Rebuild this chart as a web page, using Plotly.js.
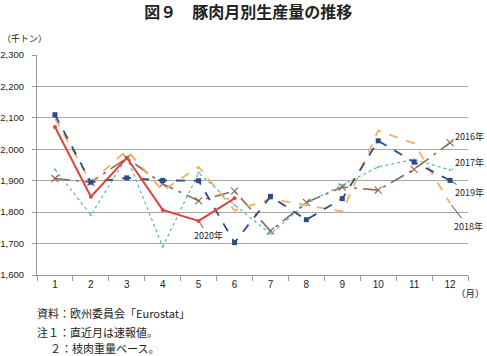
<!DOCTYPE html>
<html>
<head>
<meta charset="utf-8">
<script src="https://cdn.plot.ly/plotly-3.0.1.min.js"></script>
<style>html,body{margin:0;padding:0;background:#fff;}#chart{width:487px;height:356px;}</style>
</head>
<body>
<div id="chart"></div>
<script>
var months = ['1','2','3','4','5','6','7','8','9','10','11','12'];
var y2016 = [1907, 1895, 1972, 1890, 1836, 1867, 1740, 1831, 1880, 1870, 1936, 2021];
var y2017 = [1936, 1791, 1975, 1690, 1925, 1823, 1731, 1828, 1886, 1944, 1968, 1934];
var y2018 = [2098, 1895, 1997, 1868, 1944, 1805, 1842, 1822, 1802, 2059, 2019, 1828];
var y2019 = [2110, 1895, 1909, 1901, 1900, 1703, 1850, 1776, 1843, 2027, 1959, 1901];
var y2020 = [2071, 1849, 1973, 1807, 1772, 1844];
var yTicks = [1600, 1700, 1800, 1900, 2000, 2100, 2200, 2300];
var yTickText = ['1,600','1,700','1,800','1,900','2,000','2,100','2,200','2,300'];

var JP = '"Noto Sans CJK JP", "Noto Sans", sans-serif';
var NUM = '"Liberation Sans", Arial, sans-serif';

var traces = [
  {x: months, y: y2016, name: '2016年', mode: 'lines+markers',
   line: {color: '#8a6b55', width: 1.6, dash: 'longdashdot'},
   marker: {symbol: 'x-thin-open', size: 7, line: {color: '#8a6b55', width: 1.2}}},
  {x: months, y: y2017, name: '2017年', mode: 'lines+markers',
   line: {color: '#5ab3b8', width: 1.2, dash: 'dot'},
   marker: {symbol: 'triangle-up', size: 3, color: '#5ab3b8'}},
  {x: months, y: y2018, name: '2018年', mode: 'lines',
   line: {color: '#f0b064', width: 1.8, dash: 'dash'}},
  {x: months, y: y2019, name: '2019年', mode: 'lines+markers',
   line: {color: '#2c4a85', width: 1.8, dash: 'dash'},
   marker: {symbol: 'square', size: 5, color: '#2c4a85'}},
  {x: months.slice(0, y2020.length), y: y2020, name: '2020年', mode: 'lines+markers',
   line: {color: '#e0433a', width: 2}, marker: {symbol: 'circle', size: 4, color: '#e0433a'}}
];

// category axis: annotation x is the category index
function lab(text, idx, y, ax, ay) {
  return {x: idx, y: y, xref: 'x', yref: 'y', text: text, showarrow: true, arrowhead: 0,
          arrowwidth: 0.8, arrowcolor: '#222', ax: ax, ay: ay, standoff: 2,
          font: {family: JP, size: 9, color: '#222'}};
}

var layout = {
  width: 487, height: 356,
  margin: {l: 37, r: 19, t: 55, b: 81},
  paper_bgcolor: '#fff', plot_bgcolor: '#fff',
  showlegend: false,
  title: {text: '<b>図９　豚肉月別生産量の推移</b>', x: 0.51, xanchor: 'center', y: 0.965, yanchor: 'middle',
          font: {family: JP, size: 16, color: '#222'}},
  xaxis: {type: 'category', range: [-0.5, 11.5], showgrid: false, showline: true, linecolor: '#999', linewidth: 1,
          ticks: 'outside', tickson: 'boundaries', ticklen: 5, tickcolor: '#999',
          tickfont: {family: NUM, size: 10, color: '#222'}, fixedrange: true},
  yaxis: {range: [1600, 2300], tickvals: yTicks, ticktext: yTickText, showgrid: true, gridcolor: '#a8a8a8', gridwidth: 1,
          showline: true, linecolor: '#999', linewidth: 1, ticks: 'outside', ticklen: 4, tickcolor: '#999',
          ticklabelstandoff: 6, zeroline: false,
          tickfont: {family: NUM, size: 9.5, color: '#222'}, fixedrange: true},
  annotations: [
    lab('2016年', 11, y2016[11], 19, -6),
    lab('2017年', 11, y2017[11], 19, -8),
    lab('2019年', 11, y2019[11], 19, 12),
    lab('2018年', 11, y2018[11], 18, 23),
    lab('2020年', 4, y2020[4], 10, 15),
    {xref: 'paper', yref: 'paper', x: -0.085, y: 1.0, xanchor: 'left', yanchor: 'bottom', yshift: 8,
     text: '（千トン）', showarrow: false, font: {family: JP, size: 9, color: '#222'}},
    {xref: 'paper', yref: 'paper', x: 1.0, y: 0, xanchor: 'left', yanchor: 'top', yshift: -9, xshift: -14,
     text: '（月）', showarrow: false, font: {family: JP, size: 9.5, color: '#222'}},
    {xref: 'paper', yref: 'paper', x: 0, y: 0, xanchor: 'left', yanchor: 'middle', yshift: -38, xshift: -2,
     text: '資料：欧州委員会「Eurostat」', showarrow: false, font: {family: JP, size: 11, color: '#222'}},
    {xref: 'paper', yref: 'paper', x: 0, y: 0, xanchor: 'left', yanchor: 'middle', yshift: -57, xshift: -2,
     text: '注１：直近月は速報値。', showarrow: false, font: {family: JP, size: 11, color: '#222'}},
    {xref: 'paper', yref: 'paper', x: 0, y: 0, xanchor: 'left', yanchor: 'middle', yshift: -73, xshift: 11,
     text: '２：枝肉重量ベース。', showarrow: false, font: {family: JP, size: 11, color: '#222'}}
  ]
};

Plotly.newPlot('chart', traces, layout, {displayModeBar: false, staticPlot: true});
</script>
</body>
</html>
